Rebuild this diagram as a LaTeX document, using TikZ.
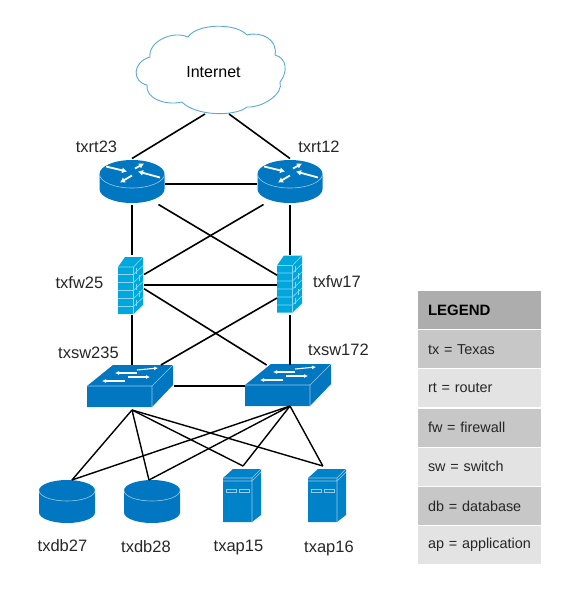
\documentclass[tikz,border=0pt]{standalone}
\usepackage{fontspec}
\setmainfont{Liberation Sans}
\usetikzlibrary{arrows.meta}
\tikzset{icon/.style={inner sep=0pt,outer sep=0pt}}
\tikzset{link/.style={draw=black,line width=1.6pt}}
\tikzset{devlabel/.style={inner sep=0pt,font=\fontsize{16.5}{18}\selectfont,text=black!85}}
\tikzset{legendrow/.style={inner sep=0pt,outer sep=0pt,minimum width=123pt,minimum height=38pt,text width=103pt,align=left,font=\fontsize{14.4}{16}\selectfont,text=black!85}}
\tikzset{bigarrow/.style={white,line width=1.8pt,-{Latex[length=5pt,width=6pt]}}}
\tikzset{smallarrow/.style={white,line width=1.1pt,-{Latex[length=4pt,width=4pt]}}}
\tikzset{edgeline/.style={white!60!devblue,line width=.6pt}}
\definecolor{devblue}{RGB}{0,119,192}
\definecolor{srvblue}{RGB}{0,130,200}
\definecolor{fwblue}{RGB}{0,167,220}
\definecolor{cloudblue}{RGB}{90,170,215}
\def\rowsep{39.2}

% router drawn around its centre
\newcommand{\routericon}[2]{
  \begin{scope}[shift={(#1,#2)}]
    \fill[devblue] (-32.5,-7.5) -- (-32.5,7.5) arc[start angle=180,end angle=0,x radius=32.5,y radius=14] -- (32.5,-7.5) -- cycle;
    \fill[devblue] (0,-7.5) ellipse[x radius=32.5,y radius=14];
    \draw[edgeline] (-32.5,-7.5) arc[start angle=180,end angle=0,x radius=32.5,y radius=14];
    \draw[bigarrow] (-26,-15) -- (-5,-10);
    \draw[bigarrow] (3,-13) -- (12,-18);
    \draw[bigarrow] (28,-4) -- (6,-10);
    \draw[bigarrow] (0,-6) -- (-12,1);
  \end{scope}}

% firewall drawn around its centre
\newcommand{\firewallicon}[2]{
  \begin{scope}[shift={(#1,#2)}]
    \fill[fwblue] (-12.5,-18.5) -- (-5.5,-28.5) -- (12.5,-28.5) -- (12.5,19.5) -- (3,28.5) -- (-12.5,28.5) -- cycle;
    \draw[white!55!fwblue,line width=.6pt] (-12.5,-18.5) -- (3,-18.5) -- (12.5,-28.5) (3,-18.5) -- (3,28.5);
    \foreach \y in {-11,-3,5,13,21}
      \draw[white!55!fwblue,line width=.6pt] (-12.5,\y) -- (3,\y) -- (12.5,\y-9);
    \foreach \x / \y in {6/-14,9/-7,6/2,9/9,6/18}
      \draw[white!55!fwblue,line width=.6pt] (\x,\y-4) -- (\x,\y+2);
  \end{scope}}

% switch drawn around its centre
\newcommand{\switchicon}[2]{
  \begin{scope}[shift={(#1,#2)}]
    \fill[devblue] (-43,0) -- (-17,-21) -- (43,-21) -- (43,-1) -- (22,21) -- (-43,21) -- cycle;
    \draw[edgeline] (-43,0) -- (22,0) -- (43,-21) (22,0) -- (22,21);
    \draw[smallarrow] (7,-16) -- (28,-18);
    \draw[smallarrow] (7,-13) -- (-15,-13);
    \draw[smallarrow] (-2,-9) -- (20,-9);
    \draw[smallarrow] (-5,-5) -- (-28,-5);
  \end{scope}}

% database drawn around its centre
\newcommand{\dbicon}[2]{
  \begin{scope}[shift={(#1,#2)}]
    \fill[devblue] (-28,-11) -- (-28,11) arc[start angle=180,end angle=0,x radius=28,y radius=10.5] -- (28,-11) -- cycle;
    \fill[devblue] (0,-11) ellipse[x radius=28,y radius=10.5];
    \draw[edgeline] (-28,-11) arc[start angle=180,end angle=0,x radius=28,y radius=10.5];
  \end{scope}}

% server drawn around its centre
\newcommand{\servericon}[2]{
  \begin{scope}[shift={(#1,#2)}]
    \fill[srvblue] (-19,-17.5) -- (-9,-26.5) -- (19,-26.5) -- (19,19.5) -- (10,26.5) -- (-19,26.5) -- cycle;
    \draw[edgeline] (-19,-17.5) -- (10,-17.5) -- (19,-26.5) (-19,-14.5) -- (10,-14.5) -- (19,-23.5) (10,-17.5) -- (10,26.5);
    \draw[edgeline] (-16,-6) rectangle (-6,-3) (-3,-6) rectangle (7,-3);
  \end{scope}}

\begin{document}
\begin{tikzpicture}[x=1pt,y=-1pt]
    \useasboundingbox (0,0) rectangle (567,590);

    % Draw the cloud
    \draw[cloudblue,fill=white,line width=.9pt]
        (150,57) .. controls (148,42) and (172,30) .. (188,37)
        .. controls (196,24) and (235,22) .. (247,35)
        .. controls (262,31) and (278,40) .. (275,55)
        .. controls (287,58) and (288,72) .. (280,82)
        .. controls (284,94) and (262,108) .. (247,107)
        .. controls (235,117) and (195,116) .. (182,102)
        .. controls (165,106) and (145,98) .. (147,85)
        .. controls (132,82) and (132,62) .. (150,57) -- cycle;
    \node[inner sep=0pt,font=\fontsize{16}{18}\selectfont] (internet) at (213.5,72) {Internet};
    \coordinate (cloud-l) at (205,114);
    \coordinate (cloud-r) at (229,114);

    % Draw the device icons, each with a node round it
    \foreach \name / \x / \y in {rt23/132/181.5,rt12/290/181.5}{
        \routericon{\x}{\y}
        \node[icon,minimum width=66pt,minimum height=46pt] (\name) at (\x,\y) {};
    }
    \firewallicon{130.5}{285.5}
    \node[icon,minimum width=24pt,minimum height=60pt] (fw25) at (132,285) {};
    \firewallicon{289.5}{284}
    \node[icon,minimum width=26pt,minimum height=60pt] (fw17) at (290,285) {};
    \switchicon{130}{386}
    \node[icon,minimum width=84pt,minimum height=42pt] (sw235) at (132,386) {};
    \switchicon{288}{385}
    \node[icon,minimum width=90pt,minimum height=42pt] (sw172) at (290,386) {};
    \foreach \name / \x / \y in {db27/67/501.5,db28/152/501.5}{
        \dbicon{\x}{\y}
        \node[icon,minimum width=56pt,minimum height=43pt] (\name) at (\x,\y) {};
    }
    \foreach \name / \x / \y in {ap15/242/495.5,ap16/327/495.5}{
        \servericon{\x}{\y}
        \node[icon,minimum width=38pt,minimum height=59pt] (\name) at (\x,\y) {};
    }

    % Connect the routers
    \draw[link] (rt23.north) -- (cloud-l);
    \draw[link] (rt12.north) -- (cloud-r);
    \draw[link] ([yshift=-2.5pt]rt23.east) -- ([yshift=-2.5pt]rt12.west);
    \draw[link] (rt23.south) -- (fw25.north);
    \draw[link] (rt12.south) -- (fw17.north);
    \draw[link] (rt23.-41) -- (fw17.143);
    \draw[link] (rt12.-139) -- (fw25.41);

    % Connect the firewalls
    \draw[link] (fw25.east) -- (fw17.west);
    \draw[link] (fw25.south) -- (sw235.north);
    \draw[link] (fw17.south) -- (sw172.north);
    \draw[link] (fw25.-17) -- (sw172.138);
    \draw[link] (fw17.225) -- (sw235.36);

    % Connect every switch with every server
    \draw[link] (sw235.east) -- (sw172.west);
    \foreach \source / \sh in {sw235/-3pt,sw172/1pt}
        \foreach \dest / \a in {db27/77,db28/98,ap15/88,ap16/98}
            \draw[link,line width=1.4pt] ([yshift=\sh]\source.south) -- (\dest.\a);

    % Annotate the devices
    \node[devlabel] (l-rt23) at (96.5,147) {txrt23};
    \node[devlabel] (l-rt12) at (319,147) {txrt12};
    \node[devlabel] (l-fw25) at (79.5,283) {txfw25};
    \node[devlabel] (l-fw17) at (337,282) {txfw17};
    \node[devlabel] (l-sw235) at (88.5,353) {txsw235};
    \node[devlabel] (l-sw172) at (338.5,350) {txsw172};
    \node[devlabel] (l-db27) at (62.5,546) {txdb27};
    \node[devlabel] (l-db28) at (146,547) {txdb28};
    \node[devlabel] (l-ap15) at (238.5,548) {txap15};
    \node[devlabel] (l-ap16) at (329,548) {txap16};

    % Draw the legend
    \node[legendrow,fill=black!32,anchor=north west,font=\fontsize{15}{17}\selectfont\bfseries,text=black] (leg-0) at (418,291) {LEGEND};
    \foreach \i / \col / \txt in {1/black!22/tx = Texas,2/black!11/rt = router,3/black!22/fw = firewall,
                                  4/black!11/sw = switch,5/black!22/db = database,6/black!11/ap = application}
        \node[legendrow,fill=\col,anchor=north west] (leg-\i) at (418,291+\i*\rowsep) {\txt};
\end{tikzpicture}
\end{document}
